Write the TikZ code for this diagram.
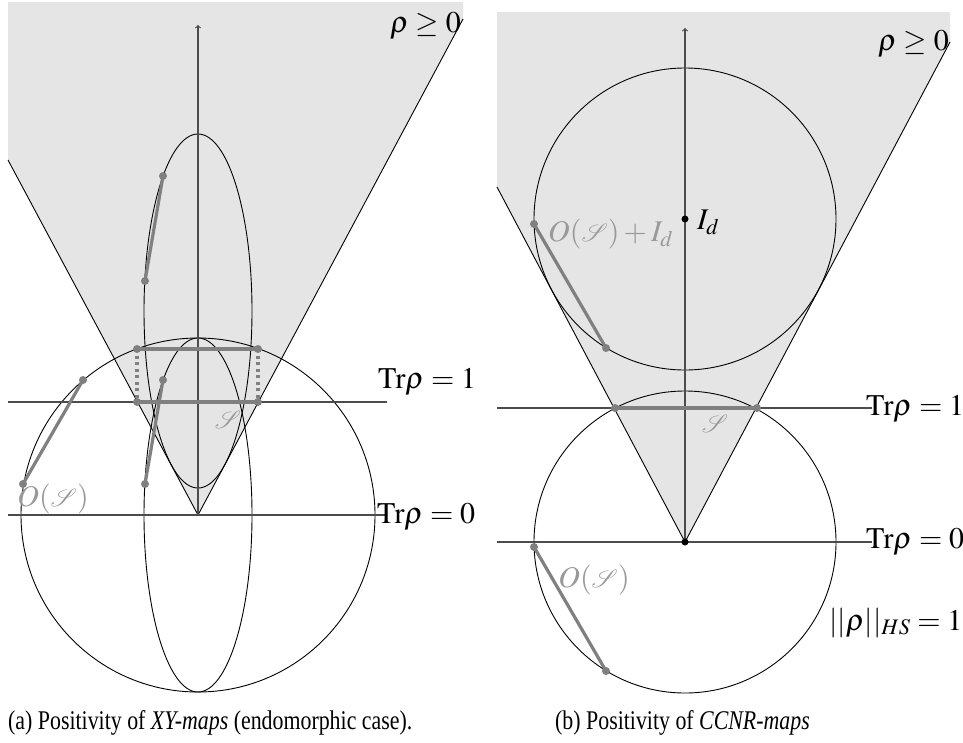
\documentclass[tikz,border=0pt]{standalone}
\usepackage{mathptmx}
\usepackage{mathrsfs}
\usepackage{fontspec}
\setmainfont{Liberation Serif}
\begin{document}
\begin{tikzpicture}[x=1pt,y=-1pt,
  curve/.style={line width=0.9pt, black},
  ax/.style={line width=1.2pt, black!70},
  seg/.style={line width=3.2pt, gray},
  dotseg/.style={line width=3.2pt, gray, dash pattern=on 3pt off 3.5pt},
  gpt/.style={circle, fill=gray, inner sep=0pt, minimum size=8pt},
  bpt/.style={circle, fill=black, inner sep=0pt, minimum size=7pt},
  lbl/.style={font=\fontsize{30}{36}\selectfont, inner sep=0pt},
  glbl/.style={lbl, text=black!40},
  captext/.style={font=\fontsize{27}{30}\selectfont, inner sep=0pt}]
\useasboundingbox (0,0) rectangle (963,742);
\fill[white] (0,0) rectangle (963,742);

% ================= left panel =================
\coordinate (LA) at (198,515);
\coordinate (LL) at (8,160);
\coordinate (LR) at (463,19);
\fill[black!10] (8,2) -- (LL) -- (LA) -- (LR) -- (463,2) -- cycle;
\draw[curve] (LL) -- (LA) -- (LR);
\draw[curve] (LA) circle [radius=177];
\draw[curve] (LA) ellipse [x radius=54, y radius=177];
\draw[curve] (198,311) ellipse [x radius=54, y radius=177];
\draw[ax,->] (LA) -- (198,25);
\coordinate (L1a) at (8,402);
\coordinate (L1b) at (387,402);
\coordinate (L0a) at (8,515);
\coordinate (L0b) at (385,515);
\draw[ax] (L1a) -- (L1b);
\draw[ax] (L0a) -- (L0b);

\node[gpt] (r1) at (137,349) {};
\node[gpt] (r2) at (258,349) {};
\node[gpt] (r3) at (137,402) {};
\node[gpt] (r4) at (258,402) {};
\draw[seg] (r1.center) -- (r2.center);
\draw[seg] (r3.center) -- (r4.center);
\draw[dotseg] (r1.center) -- (r3.center);
\draw[dotseg] (r2.center) -- (r4.center);

\node[gpt] (c1) at (23,484) {};
\node[gpt] (c2) at (83,380) {};
\draw[seg] (c1.center) -- (c2.center);
\node[gpt] (e1) at (145,484) {};
\node[gpt] (e2) at (163,380) {};
\draw[seg] (e1.center) -- (e2.center);
\node[gpt] (f1) at (145,281) {};
\node[gpt] (f2) at (163,176) {};
\draw[seg] (f1.center) -- (f2.center);

\node[glbl] (lS) at (228,420) {$\mathscr{S}$};
\node[glbl] (lOS) at (53,499) {$O(\mathscr{S})$};
\node[lbl, anchor=base west] (lT1) at (378,388) {$\mathrm{Tr}\rho=1$};
\node[lbl, anchor=base west] (lT0) at (377,523) {$\mathrm{Tr}\rho=0$};
\node[lbl, anchor=base west] (lpos) at (390,32) {$\rho\geq 0$};
\node[captext, anchor=base west] (capa) at (8,729) {\scalebox{0.81}[1]{(a) Positivity of \textit{XY-maps} (endomorphic case).}};

% ================= right panel =================
\coordinate (RA) at (685,542);
\coordinate (RL) at (497,187);
\coordinate (RR) at (950,42);
\fill[black!10] (497,12) -- (RL) -- (RA) -- (RR) -- (950,12) -- cycle;
\draw[curve] (RL) -- (RA) -- (RR);
\draw[curve] (685,219) circle [radius=151];
\draw[curve] (RA) circle [radius=151];
\draw[ax,->] (RA) -- (685,28);
\coordinate (R1a) at (497,408);
\coordinate (R1b) at (872,408);
\coordinate (R0a) at (497,542);
\coordinate (R0b) at (872,542);
\draw[ax] (R1a) -- (R1b);
\draw[ax] (R0a) -- (R0b);

\node[gpt] (s1) at (615,408) {};
\node[gpt] (s2) at (757,408) {};
\draw[seg] (s1.center) -- (s2.center);
\node[gpt] (u1) at (534,224) {};
\node[gpt] (u2) at (606,348) {};
\draw[seg] (u1.center) -- (u2.center);
\node[gpt] (l1) at (534,547) {};
\node[gpt] (l2) at (606,671) {};
\draw[seg] (l1.center) -- (l2.center);
\node[bpt] (apex) at (RA) {};
\node[bpt] (Id) at (685,219) {};

\node[lbl, anchor=west] (IdL) at (697,222) {$I_d$};
\node[glbl, anchor=west] (OSI) at (548,234) {$O(\mathscr{S})+I_d$};
\node[glbl] (rS) at (715,424) {$\mathscr{S}$};
\node[glbl] (rOS) at (594,580) {$O(\mathscr{S})$};
\node[lbl, anchor=base west] (rT1) at (866,415) {$\mathrm{Tr}\rho=1$};
\node[lbl, anchor=base west] (rT0) at (866,548) {$\mathrm{Tr}\rho=0$};
\node[lbl, anchor=base west] (rpos) at (878,50) {$\rho\geq 0$};
\node[lbl, anchor=base west] (hs) at (829,630) {$||\rho||_{HS}=1$};
\node[captext, anchor=base west] (capb) at (555,729) {\scalebox{0.81}[1]{(b) Positivity of \textit{CCNR-maps}}};
\end{tikzpicture}
\end{document}
